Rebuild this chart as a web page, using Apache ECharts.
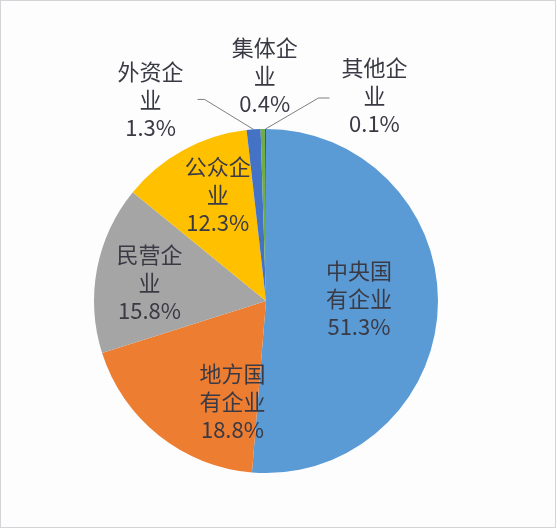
<!DOCTYPE html>
<html>
<head>
<meta charset="utf-8">
<script src="https://cdn.jsdelivr.net/npm/echarts@6/dist/echarts.min.js"></script>
<style>
  html, body { margin: 0; padding: 0; background: #ffffff; }
  #chart { width: 554px; height: 526px; border: 1px solid #d4d4d8; background: #fdfdfe; }
</style>
</head>
<body>
<div id="chart"></div>
<script>
// ---- data ----
const categories = ['中央国有企业', '地方国有企业', '民营企业', '公众企业', '外资企业', '集体企业', '其他企业'];
const shares = [51.3, 18.8, 15.8, 12.3, 1.3, 0.4, 0.1];
const sliceColors = ['#5B9BD5', '#ED7D31', '#A5A5A5', '#FFC000', '#4472C4', '#70AD47', '#255E91'];

// ---- label placement (style, not data) ----
const labelKind = ['inside', 'inside', 'inside', 'inside', 'outside', 'outside', 'outside'];
const labelShift = [[7, -6], [20, 33], [-32, -2], [-7, -31], [-103, -30], [2, -53], [109, -33]];
const leaderPts = [null, null, null, null, [[-49, -30], [-56, -30]], null, [[53, -31], [64, -31]]];

const CX = 265, CY = 300, R = 172;
const total = shares.reduce((a, b) => a + b, 0);
const midAngles = [];
(function () {
  let acc = 0;
  shares.forEach(v => { midAngles.push((acc + v / 2) / total * 2 * Math.PI); acc += v; });
})();

const chart = echarts.init(document.getElementById('chart'), null, { renderer: 'canvas' });
const option = {
  backgroundColor: '#fdfdfe',
  animation: false,
  series: [{
    type: 'pie',
    center: [CX, CY],
    radius: R,
    startAngle: 90,
    clockwise: true,
    avoidLabelOverlap: false,
    itemStyle: { borderWidth: 0 },
    emphasis: { disabled: true },
    label: {
      fontFamily: '"Noto Sans CJK SC", sans-serif',
      fontSize: 22,
      lineHeight: 28,
      color: '#3a3a45',
      formatter: p => p.name.match(/.{1,3}/g).join('\n') + '\n' + p.value.toFixed(1) + '%'
    },
    labelLine: { lineStyle: { color: '#7f7f7f', width: 1 } },
    data: categories.map((n, i) => ({
      name: n,
      value: shares[i],
      itemStyle: { color: sliceColors[i] },
      label: { position: labelKind[i] },
      labelLine: { show: !!leaderPts[i], length: 10, length2: 10 }
    })),
    labelLayout: function (params) {
      const i = params.dataIndex;
      const a = midAngles[i];
      const s = Math.sin(a), c = Math.cos(a);
      const sh = labelShift[i];
      if (labelKind[i] === 'inside') {
        return {
          x: CX + (R / 2) * s + sh[0],
          y: CY - (R / 2) * c + sh[1],
          align: 'center',
          verticalAlign: 'middle'
        };
      }
      const ex = CX + R * s, ey = CY - R * c;
      const out = {
        x: ex + sh[0],
        y: ey + sh[1],
        align: 'center',
        verticalAlign: 'middle'
      };
      if (leaderPts[i]) {
        out.labelLinePoints = [[ex, ey]].concat(leaderPts[i].map(p => [ex + p[0], ey + p[1]]));
      }
      return out;
    }
  }]
};
chart.setOption(option);
</script>
</body>
</html>
